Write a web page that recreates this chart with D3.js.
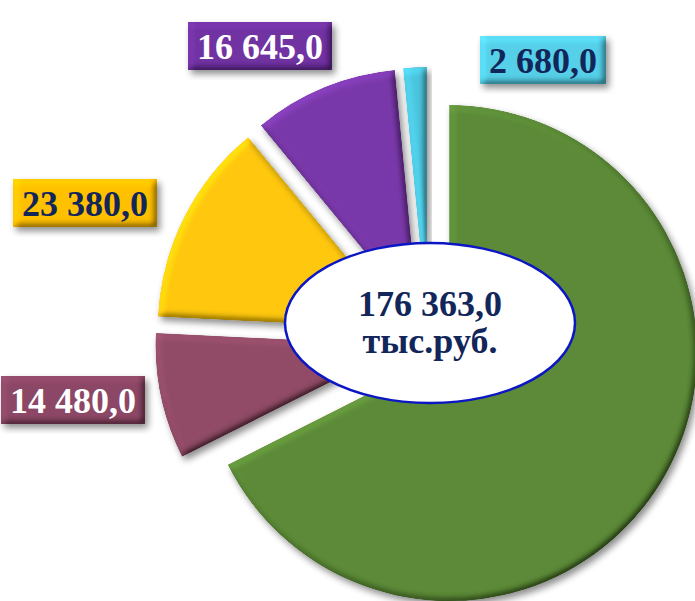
<!DOCTYPE html>
<html>
<head>
<meta charset="utf-8">
<script src="https://cdn.jsdelivr.net/npm/d3@7"></script>
<style>
  html, body { margin: 0; padding: 0; background: #fff; }
  svg { display: block; }
  text { font-family: "Times New Roman", "Liberation Serif", serif; font-weight: bold; }
</style>
</head>
<body>
<svg></svg>
<script>
const width = 695, height = 601;

// data, clockwise from 12 o'clock
const names = ['green', 'maroon', 'yellow', 'purple', 'cyan'];
const values = [119178, 14480, 23380, 16645, 2680];
const sliceColors = ['#5c8b37', '#914b66', '#ffc80a', '#7a38aa', '#4cc6df'];
const boxColors = ['#5c8b37', '#8c4765', '#ffc000', '#7131a2', '#55d0e8'];
const textColors = ['#fff', '#fff', '#13265a', '#fff', '#13265a'];
const showLabel = [false, true, true, true, true];
const centerUnit = 'тыс.руб.';

// label box centres (layout only)
const labelPos = [null, [73, 400], [85, 203], [260, 46], [543, 60]];

const fmt = d3.formatLocale({ decimal: ',', thousands: ' ', grouping: [3] }).format(',.1f');

const svg = d3.select('svg')
  .attr('width', width)
  .attr('height', height);

const defs = svg.append('defs');
const f = defs.append('filter').attr('id', 'bevel')
  .attr('x', '-15%').attr('y', '-15%').attr('width', '135%').attr('height', '135%');
f.append('feGaussianBlur').attr('in', 'SourceAlpha').attr('stdDeviation', 3.5).attr('result', 'blur');
f.append('feDiffuseLighting').attr('in', 'blur').attr('surfaceScale', 4)
  .attr('diffuseConstant', 1).attr('lighting-color', '#fff').attr('result', 'light')
  .append('feDistantLight').attr('azimuth', 225).attr('elevation', 50);
f.append('feComposite').attr('in', 'SourceGraphic').attr('in2', 'light')
  .attr('operator', 'arithmetic').attr('k1', 1.3).attr('k2', 0).attr('k3', 0).attr('k4', 0)
  .attr('result', 'lit');
f.append('feComposite').attr('in', 'lit').attr('in2', 'SourceAlpha').attr('operator', 'in').attr('result', 'litIn');
f.append('feOffset').attr('in', 'blur').attr('dx', 3).attr('dy', 4).attr('result', 'off');
f.append('feComponentTransfer').attr('in', 'off').attr('result', 'shadow')
  .append('feFuncA').attr('type', 'linear').attr('slope', 0.45);
const m = f.append('feMerge');
m.append('feMergeNode').attr('in', 'shadow');
m.append('feMergeNode').attr('in', 'litIn');

const cx = 428, cy = 340, R = 248, explode = 25;

const pie = d3.pie().sort(null).value(d => d)(values);
const arc = d3.arc().innerRadius(0).outerRadius(R);

const g = svg.append('g').attr('transform', `translate(${cx},${cy})`);

g.selectAll('path.slice')
  .data(pie)
  .join('path')
  .attr('class', 'slice')
  .attr('d', arc)
  .attr('fill', (d, i) => sliceColors[i])
  .attr('filter', 'url(#bevel)')
  .attr('transform', d => {
    const a = (d.startAngle + d.endAngle) / 2;
    return `translate(${Math.sin(a) * explode},${-Math.cos(a) * explode})`;
  });

// centre ellipse
const total = d3.sum(values);
const center = svg.append('g').attr('transform', 'translate(430,323)');
center.append('ellipse')
  .attr('rx', 145).attr('ry', 80)
  .attr('fill', '#fff')
  .attr('stroke', '#0b16c4')
  .attr('stroke-width', 2.5);
center.append('text')
  .attr('text-anchor', 'middle')
  .attr('y', -7)
  .attr('font-size', 36)
  .attr('fill', '#13265a')
  .text(fmt(total));
center.append('text')
  .attr('text-anchor', 'middle')
  .attr('y', 30)
  .attr('font-size', 36)
  .attr('fill', '#13265a')
  .text(centerUnit);

// value labels
const labels = svg.selectAll('g.label')
  .data(pie.filter((d, i) => showLabel[i]))
  .join('g')
  .attr('class', 'label')
  .attr('transform', d => `translate(${labelPos[d.index][0]},${labelPos[d.index][1]})`);

labels.append('text')
  .attr('text-anchor', 'middle')
  .attr('dy', '0.35em')
  .attr('font-size', 36)
  .attr('fill', d => textColors[d.index])
  .text(d => fmt(d.data));

labels.each(function(d) {
  const gEl = d3.select(this);
  const bb = gEl.select('text').node().getBBox();
  gEl.insert('rect', 'text')
    .attr('x', bb.x - 9)
    .attr('y', -24)
    .attr('width', bb.width + 18)
    .attr('height', 48)
    .attr('fill', boxColors[d.index])
    .attr('filter', 'url(#bevel)');
});
</script>
</body>
</html>
